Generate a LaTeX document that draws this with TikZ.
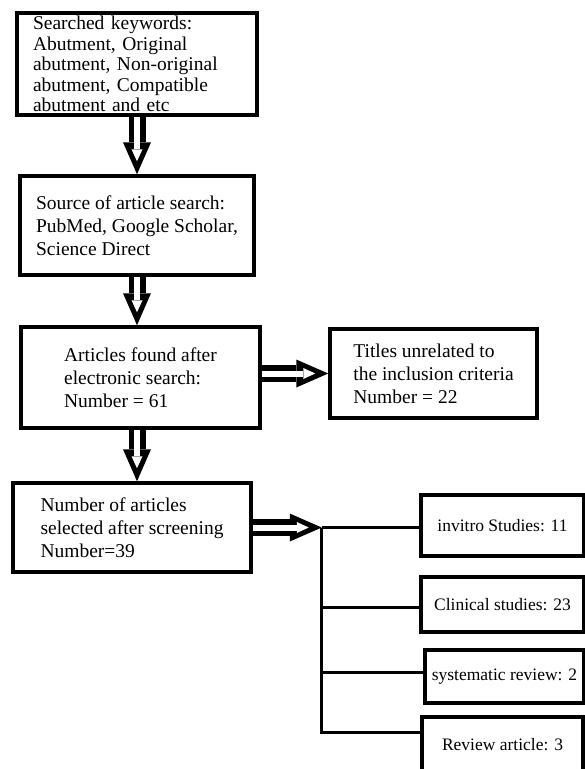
\documentclass[tikz,border=0pt]{standalone}
\usepackage{fontspec}
\setmainfont{Liberation Serif}
\usepackage{tikz}
\usetikzlibrary{arrows.meta, positioning}

\begin{document}
\begin{tikzpicture}[x=1pt, y=1pt, node distance=150pt,
    box/.style={rectangle, draw, line width=3.5pt, align=left, inner sep=0pt, font=\fontsize{19.5}{23}\selectfont},
    smallbox/.style={rectangle, draw, line width=3.5pt, align=center, inner sep=0pt, font=\fontsize{17.5}{20}\selectfont},
    hollow/.style={white, line width=6pt, -{Triangle[length=12pt, width=11pt, line width=0pt]}, shorten >=13pt,
        preaction={draw=black, line width=17pt, -{Triangle[length=32pt, width=28pt, line width=0pt]}, shorten >=0pt}},
    branch/.style={line width=3pt}]
    \useasboundingbox (0,0) rectangle (585,-769);

    % Search steps
    \node[box, minimum width=240pt, minimum height=102pt, text width=208pt, inner xsep=16pt, font=\fontsize{19.5}{20.5}\selectfont] (search_terms) at (137,-64) {Searched keywords:\\ Abutment, Original\\ abutment, Non-original\\ abutment, Compatible\\ abutment and etc};
    \node[box, minimum width=234pt, minimum height=99pt, below of=search_terms, yshift=-11.5pt] (search_src) {Source of article search:\\ PubMed, Google Scholar,\\ Science Direct};
    \draw[hollow] (search_terms) -- (search_src);

    % Found and excluded
    \node[box, minimum width=239pt, minimum height=101pt, below of=search_src, xshift=3.5pt, yshift=-2pt] (found_art) {Articles found after\\ electronic search:\\ Number = 61};
    \node[box, minimum width=207pt, minimum height=89pt, right of=found_art, xshift=143pt, yshift=4pt] (unrelated) {Titles unrelated to\\ the inclusion criteria\\ Number = 22};
    \draw[hollow] (search_src.south) -- (search_src.south |- found_art.north);
    \draw[hollow] (found_art.east |- unrelated.west) -- (unrelated.west);

    % Screened articles
    \node[box, minimum width=238pt, minimum height=89pt, below of=found_art, xshift=-8.5pt] (screened) {Number of articles\\ selected after screening\\ Number=39};
    \draw[hollow] (found_art.south -| search_src.south) -- (search_src.south |- screened.north);
    \coordinate (fork) at ([xshift=69pt]screened.east);
    \draw[hollow] (screened.east) -- (fork);

    % Study types
    \node[smallbox, minimum width=163pt, minimum height=61pt, right of=screened, xshift=220.5pt, yshift=2pt] (invitro) {invitro Studies: 11};
    \node[smallbox, minimum width=163pt, minimum height=55pt, node distance=79pt, below of=invitro] (clinical) {Clinical studies: 23};
    \node[smallbox, minimum width=159pt, minimum height=53pt, node distance=72pt, below of=clinical, xshift=2pt] (sysrev) {systematic review: 2};
    \node[smallbox, minimum width=161pt, minimum height=55pt, node distance=68pt, below of=sysrev, xshift=-2pt] (review) {Review article: 3};

    \draw[branch] (fork) -- (fork -| invitro.west);
    \draw[branch] ([yshift=-2.5pt]fork |- clinical.west) -- ([yshift=-2.5pt]clinical.west);
    \draw[branch] ([yshift=4.5pt]fork |- sysrev.west) -- ([yshift=4.5pt]sysrev.west);
    \draw[branch] (fork) |- ([yshift=12pt]review.west);
\end{tikzpicture}
\end{document}
